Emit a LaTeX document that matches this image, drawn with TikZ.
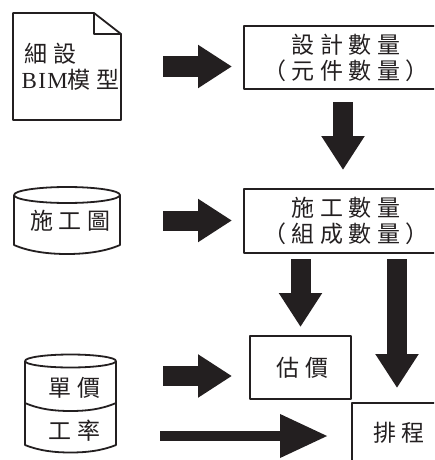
\documentclass[tikz,border=0pt]{standalone}
\usepackage{fontspec}
\setmainfont{Liberation Serif}
\newfontfamily\cjk[LetterSpace=24]{Noto Sans CJK TC}
\usetikzlibrary{arrows.meta}
\definecolor{inkdark}{HTML}{231F20}
\tikzset{
    x=1pt, y=-1pt,
    outline/.style={draw=inkdark, line width=1.8pt, line join=round},
    label/.style={inner sep=0pt, outer sep=0pt, align=center, text=inkdark,
        font=\fontsize{23}{26}\selectfont\cjk},
    qtybox/.style={label, outline, minimum width=198pt},
    smallbox/.style={label, outline, minimum width=101pt, minimum height=63pt},
    blockarrow/.style={draw=inkdark, line width=20pt, -{Triangle[length=34pt, width=41pt]}},
    thinarrow/.style={draw=inkdark, line width=10pt, -{Triangle[length=48pt, width=41pt]}}
}
\begin{document}
\begin{tikzpicture}
    \useasboundingbox (0,0) rectangle (434,460);
    \clip (0,0) rectangle (434,460);

    \node[label, align=left, minimum width=108pt, minimum height=107pt] (docnode) at (67,66.5)
        {\hspace*{10pt}細設\\\hspace*{7pt}{\rmfamily\addfontfeature{LetterSpace=6}BIM}模型};
    \draw[outline] (docnode.north west) -- (94,13) -- (docnode.north east |- 0,34)
        -- (docnode.south east) -- (docnode.south west) -- cycle;
    \draw[outline] (94,13) -- (94,34) -- (docnode.north east |- 0,34);

    \node[label, minimum width=106pt, minimum height=67pt] (planfile) at (67,220.5)
        {\raisebox{-7pt}{\hspace*{7pt}施工圖}};
    \draw[outline] (14,195) -- (14,245) .. controls (30,252) and (50,254) .. (67,254)
        .. controls (84,254) and (104,252) .. (120,245) -- (120,195);
    \draw[outline] (67,195) ellipse (53pt and 8pt);

    \node[label] (pricenode) [minimum width=91pt] at (70.5,388) {\hspace*{8pt}單價};
    \node[label] (ratenode) [minimum width=91pt] at (70.5,431) {\hspace*{8pt}工率};
    \draw[outline] (25,361) -- (25,445) .. controls (40,451) and (55,452.5) .. (70.5,452.5)
        .. controls (86,452.5) and (101,451) .. (116,445) -- (116,361);
    \draw[outline] (70.5,361) ellipse (45.5pt and 6.5pt);
    \draw[outline] (25,403) .. controls (40,409.5) and (55,411) .. (70.5,411)
        .. controls (86,411) and (101,409.5) .. (116,403);

    \node[qtybox, minimum height=63pt] (designqty) at (343,57.5)
        {\hspace*{6pt}設計數量\\\hspace*{6pt}（元件數量）};
    \node[qtybox, minimum height=64pt] (planqty) at (343,221)
        {\hspace*{6pt}施工數量\\\hspace*{6pt}（組成數量）};
    \node[smallbox] (estimate) at (300.5,367.5) {\hspace*{4pt}估價};
    \node[label, outline, minimum width=90pt, minimum height=60pt] (schedule) at (397,433)
        {\raisebox{2pt}{\hspace*{4pt}排程}};

    \draw[blockarrow, shorten <=42pt, shorten >=12pt] (docnode.east) -- (docnode.east -| designqty.west);
    \draw[blockarrow, shorten <=43pt, shorten >=12pt] (planfile.east) -- (planfile.east -| planqty.west);
    \draw[blockarrow, shorten <=47pt, shorten >=18pt] ([yshift=12pt]pricenode.east) -- ([yshift=-8.5pt]estimate.west);
    \draw[thinarrow, shorten <=44pt, shorten >=24pt] ([yshift=-5pt]ratenode.east) -- ([yshift=-3pt]schedule.west);
    \draw[blockarrow, shorten <=13pt, shorten >=19pt] (designqty.south) -- (planqty.north);
    \draw[blockarrow, shorten <=6pt, shorten >=9pt] (estimate.north |- planqty.south) -- (estimate.north);
    \draw[blockarrow, shorten <=6pt, shorten >=15pt] (schedule.north |- planqty.south) -- (schedule.north);
\end{tikzpicture}
\end{document}
